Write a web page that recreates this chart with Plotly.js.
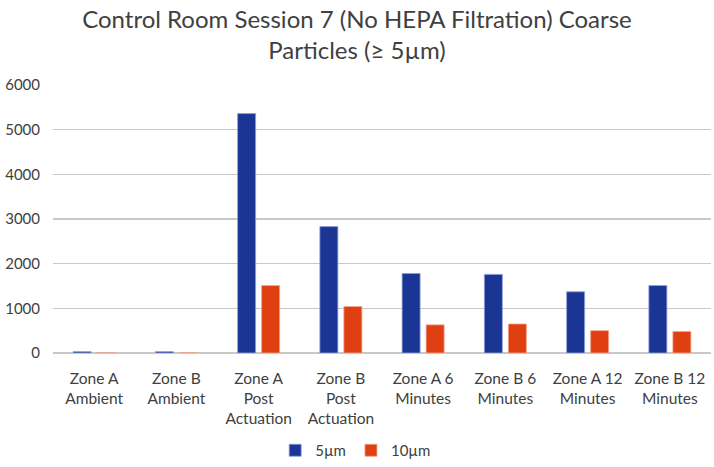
<!DOCTYPE html>
<html>
<head>
<meta charset="utf-8">
<script src="https://cdn.plot.ly/plotly-3.0.1.min.js"></script>
<style>html,body{margin:0;padding:0;background:#fff;}#chart{width:714px;height:467px;}</style>
</head>
<body>
<div id="chart"></div>
<script>
const categories = [
  "Zone A<br>Ambient", "Zone B<br>Ambient", "Zone A<br>Post<br>Actuation", "Zone B<br>Post<br>Actuation",
  "Zone A 6<br>Minutes", "Zone B 6<br>Minutes", "Zone A 12<br>Minutes", "Zone B 12<br>Minutes"
];
const series5um = [30, 30, 5360, 2830, 1780, 1760, 1370, 1510];
const series10um = [3, 3, 1510, 1040, 630, 650, 500, 480];
const yTicks = [0, 1000, 2000, 3000, 4000, 5000, 6000];

const fontFam = "Lato, 'Open Sans', 'Liberation Sans', sans-serif";
const data = [
  {type: "bar", name: "5µm", x: categories, y: series5um,
   marker: {color: "#1b3595", line: {color: "#8fa0d8", width: 0.8}}},
  {type: "bar", name: "10µm", x: categories, y: series10um,
   marker: {color: "#e03f12", line: {color: "#f3a58c", width: 0.8}}}
];
const layout = {
  width: 714, height: 467,
  margin: {l: 53, r: 3, t: 85, b: 114},
  paper_bgcolor: "#fff", plot_bgcolor: "#fff",
  font: {family: fontFam, color: "#404040", size: 15},
  title: {text: "Control Room Session 7 (No HEPA Filtration) Coarse<br>Particles (≥ 5µm)",
          x: 0.5, xanchor: "center", xref: "container", yref: "container", y: 0.94, yanchor: "middle",
          font: {size: 24, color: "#404040", family: fontFam}},
  barmode: "group", bargap: 0.416, bargroupgap: 0.25,
  xaxis: {tickfont: {size: 15.5, color: "#404040"}, showgrid: false, showline: false, ticks: "",
          ticklabelstandoff: 14, automargin: false},
  yaxis: {range: [0, 6000], tickvals: yTicks, ticktext: yTicks.map(String),
          showgrid: true, gridcolor: "#c8c8c8", gridwidth: 1.2, zeroline: true, zerolinecolor: "#c8c8c8", zerolinewidth: 1.2,
          tickfont: {size: 15, color: "#404040"}, ticks: "", ticklen: 0, ticklabelstandoff: 12, automargin: false},
  legend: {orientation: "h", x: 0.46, xanchor: "center", yref: "container", y: 0.0, yanchor: "bottom",
           font: {size: 15, color: "#404040"}, itemwidth: 30, traceorder: "normal"},
  showlegend: true
};
Plotly.newPlot("chart", data, layout, {displayModeBar: false, staticPlot: true});
</script>
</body>
</html>
